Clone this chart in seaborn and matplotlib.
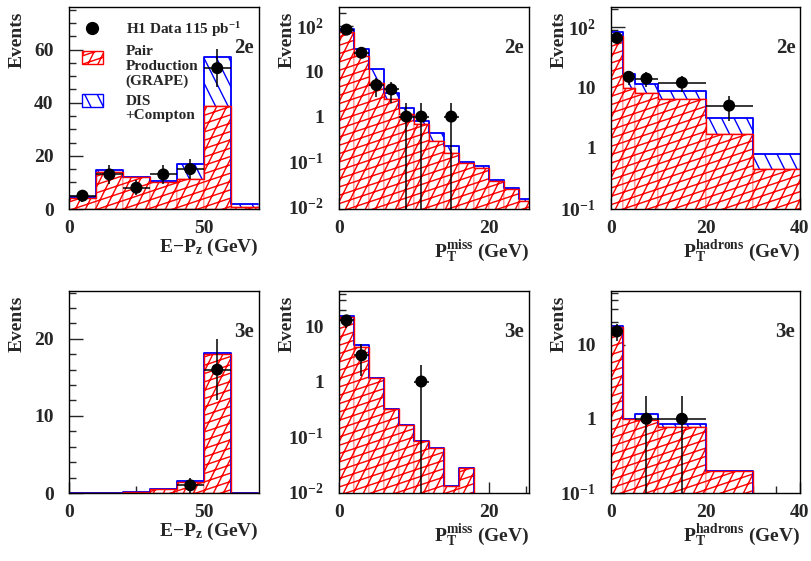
import numpy as np
import pandas as pd
import matplotlib
matplotlib.use("Agg")
import matplotlib.pyplot as plt
import matplotlib.hatch as mhatch
import matplotlib.patches as mpatches
from matplotlib.lines import Line2D
from matplotlib.legend_handler import HandlerPatch
from matplotlib.path import Path
from matplotlib.ticker import MultipleLocator, LogLocator, FuncFormatter, NullFormatter
import seaborn as sns

# ---------------- data ----------------
edges_epz = [0, 10, 20, 30, 40, 50, 60, 70]
edges_ptmiss = [0, 2, 4, 6, 8, 10, 12, 14, 16, 18, 20, 22, 24, 26]
edges_pthad = [0, 2.5, 5, 10, 20, 30, 40]

# 2e, E-Pz
pair_2e_epz = [4.3, 13.8, 12.0, 10.3, 11.3, 38.6, 0.9]
total_2e_epz = [4.5, 14.5, 12.2, 10.5, 16.9, 57.2, 1.8]
data_2e_epz = [5, 13, 8, 13, 15, 53, 0]

# 2e, PT miss
pair_2e_ptmiss = [75, 22, 5.6, 2.4, 1.12, 0.68, 0.29, 0.154, 0.093, 0.071, 0.038, 0.025, 0.0136]
total_2e_ptmiss = [90, 31, 11.2, 3.3, 1.58, 0.8, 0.44, 0.22, 0.097, 0.081, 0.040, 0.026, 0.0148]
data_2e_ptmiss = [85, 26, 5, 4, 1, 1, 0, 1, 0, 0, 0, 0, 0]

# 2e, PT hadrons
pair_2e_pthad = [70, 9.8, 8.1, 6.5, 1.7, 0.45]
total_2e_pthad = [82, 17, 11.4, 8.6, 3.1, 0.8]
data_2e_pthad = [66, 15, 14, 12, 5, 0]

# 3e, E-Pz
pair_3e_epz = [0, 0, 0.1, 0.5, 1.4, 18.0, 0.05]
total_3e_epz = [0, 0, 0.1, 0.5, 1.5, 18.2, 0.05]
data_3e_epz = [0, 0, 0, 0, 1, 16, 0]

# 3e, PT miss
pair_3e_ptmiss = [14.8, 4.2, 1.15, 0.31, 0.163, 0.081, 0.061, 0.0123, 0.026, 0, 0, 0, 0]
total_3e_ptmiss = [15.3, 4.6, 1.15, 0.31, 0.163, 0.081, 0.062, 0.0123, 0.026, 0, 0, 0, 0]
data_3e_ptmiss = [13, 3, 0, 0, 0, 1, 0, 0, 0, 0, 0, 0, 0]

# 3e, PT hadrons
pair_3e_pthad = [17.4, 1.0, 0.95, 0.77, 0.198, 0]
total_3e_pthad = [17.6, 1.0, 1.16, 0.85, 0.198, 0]
data_3e_pthad = [15, 0, 1, 1, 0, 0]

xlabel_epz = "E\u2212P$_{z}$ (GeV)"
xlabel_ptmiss = "P$_{T}^{miss}$ (GeV)"
xlabel_pthad = "P$_{T}^{hadrons}$ (GeV)"
legend_labels = ["H1 Data 115 pb$^{-1}$", "Pair\nProduction\n(GRAPE)", "DIS\n+Compton"]


# ---------------- ROOT-like slanted hatch patterns ----------------
def _clip_to_tile(p0, d, lo=-0.03, hi=1.03):
    t0, t1 = -np.inf, np.inf
    for i in range(2):
        if abs(d[i]) < 1e-12:
            if p0[i] < lo or p0[i] > hi:
                return None
        else:
            ta = (lo - p0[i]) / d[i]
            tb = (hi - p0[i]) / d[i]
            t0 = max(t0, min(ta, tb))
            t1 = min(t1, max(ta, tb))
    if t0 >= t1:
        return None
    return p0 + t0 * d, p0 + t1 * d


def make_line_hatch(char, a, b, m0):
    """Periodic family of lines b*x - a*y = k/m0 in the unit hatch tile."""
    class _LineHatch(mhatch.HatchPatternBase):
        def __init__(self, hatch, density):
            n = hatch.count(char)
            segs = []
            if n:
                m = m0 * n
                vals = [b * x - a * y for x, y in ((0, 0), (1, 0), (0, 1), (1, 1))]
                d = np.array([a, b], float) / np.hypot(a, b)
                for k in range(int(np.floor(min(vals) * m)) - 2,
                               int(np.ceil(max(vals) * m)) + 3):
                    c = k / m
                    p0 = np.array([c / b, 0.0]) if b != 0 else np.array([0.0, -c / a])
                    seg = _clip_to_tile(p0, d)
                    if seg is not None:
                        segs.append(seg)
            self.segs = segs
            self.num_vertices = 2 * len(segs)
            self.filled = False

        def set_vertices_and_codes(self, vertices, codes):
            for i, (p, q) in enumerate(self.segs):
                vertices[2 * i] = p
                vertices[2 * i + 1] = q
                codes[2 * i] = Path.MOVETO
                codes[2 * i + 1] = Path.LINETO
    return _LineHatch


_keep = [t for t in mhatch._hatch_types
         if t not in (mhatch.LargeCircles, mhatch.SmallCircles, mhatch.Stars)]
mhatch._hatch_types = _keep + [make_line_hatch("O", 1, 2, 5),    # red, steep
                               make_line_hatch("*", 3, 1, 4),    # red, shallow
                               make_line_hatch("o", 1, -2, 4)]   # blue
RED_HATCH = "O*"
BLUE_HATCH = "o"

# ---------------- style ----------------
sns.set_style("ticks")
plt.rcParams["font.family"] = ["Liberation Serif", "DejaVu Serif"]
plt.rcParams["font.weight"] = "bold"
plt.rcParams["mathtext.fontset"] = "custom"
plt.rcParams["mathtext.rm"] = "Liberation Serif:bold"
plt.rcParams["mathtext.it"] = "Liberation Serif:bold"
plt.rcParams["mathtext.bf"] = "Liberation Serif:bold"
plt.rcParams["mathtext.default"] = "rm"
plt.rcParams["hatch.linewidth"] = 1.0
plt.rcParams["axes.linewidth"] = 1.0
plt.rcParams["axes.edgecolor"] = "black"

RED = "#ff0000"
BLUE = "#0000ff"
FS = 14

fig = plt.figure(figsize=(8.12, 5.61), dpi=100)
W = 812.0
H = 561.0
col_x = [69, 339, 611]
col_w = [190, 190, 189]
row_top = [7, 291]
row_h = 202


def logfmt(v, pos):
    e = int(round(np.log10(v)))
    if e == 0:
        return "1"
    if e == 1:
        return "10"
    return r"$10^{%d}$" % e


def hatched_hist(ax, df, col, edges, color, hatch):
    n0 = len(ax.patches)
    sns.histplot(data=df, x="x", weights=col, bins=edges, element="bars", fill=True,
                 facecolor="white", edgecolor=color, linewidth=0.3, ax=ax)
    for p in ax.patches[n0:]:
        p.set_hatch(hatch)
        p.set_edgecolor(color)
        p.set_facecolor("white")
        p.set_antialiased(True)


def draw_panel(ax, edges, pair, total, data, xlim, ylim, log, xlabel, tag,
               xmajor, xminor, ymajor=None, yminor=None, xlabelpad=4):
    edges = [float(e) for e in edges]
    e_arr = np.asarray(edges)
    centers = 0.5 * (e_arr[:-1] + e_arr[1:])
    halfw = 0.5 * (e_arr[1:] - e_arr[:-1])
    df = pd.DataFrame({"x": centers, "pair": pair, "total": total})

    # total (DIS + Compton stacked on pair production): blue hatch
    hatched_hist(ax, df, "total", edges, BLUE, BLUE_HATCH)
    sns.histplot(data=df, x="x", weights="total", bins=edges, element="step", fill=False,
                 color=BLUE, linewidth=1.3, ax=ax)
    # pair production: red cross hatch
    hatched_hist(ax, df, "pair", edges, RED, RED_HATCH)
    sns.histplot(data=df, x="x", weights="pair", bins=edges, element="step", fill=False,
                 color=RED, linewidth=1.0, ax=ax)

    data = np.asarray(data, float)
    m = data > 0
    ax.errorbar(centers[m], data[m], yerr=np.sqrt(data[m]), xerr=halfw[m], fmt="none",
                ecolor="black", elinewidth=1.1, capsize=0, zorder=6)
    sns.scatterplot(x=centers[m], y=data[m], color="black", s=75, edgecolor="none",
                    ax=ax, zorder=7, legend=False)

    if log:
        ax.set_yscale("log")
        ax.yaxis.set_major_locator(LogLocator(base=10, numticks=12))
        ax.yaxis.set_minor_locator(LogLocator(base=10, subs=np.arange(2, 10), numticks=12))
        ax.yaxis.set_major_formatter(FuncFormatter(logfmt))
        ax.yaxis.set_minor_formatter(NullFormatter())
    else:
        ax.yaxis.set_major_locator(MultipleLocator(ymajor))
        ax.yaxis.set_minor_locator(MultipleLocator(yminor))
    ax.xaxis.set_major_locator(MultipleLocator(xmajor))
    ax.xaxis.set_minor_locator(MultipleLocator(xminor))
    ax.set_xlim(*xlim)
    ax.set_ylim(*ylim)

    ax.tick_params(which="both", direction="in", top=False, right=False,
                   labelsize=FS, width=1.0)
    ax.tick_params(axis="y", which="major", length=10, pad=11)
    ax.tick_params(axis="y", which="minor", length=5)
    ax.tick_params(axis="x", which="major", length=8, pad=8)
    ax.tick_params(axis="x", which="minor", length=5)
    for s in ax.spines.values():
        s.set_visible(True)
        s.set_linewidth(1.0)
        s.set_color("black")

    ax.set_ylabel("Events", fontsize=FS, fontweight="bold", loc="top")
    ax.yaxis.set_label_coords(-0.23, 0.975)
    ax.set_xlabel(xlabel, fontsize=FS, fontweight="bold", loc="right", labelpad=xlabelpad)
    ax.text(0.975, 0.795, tag, transform=ax.transAxes, ha="right", va="center",
            fontsize=FS + 1, fontweight="bold")


def make_ax(r, c):
    left = col_x[c] / W
    bottom = 1 - (row_top[r] + row_h) / H
    return fig.add_axes([left, bottom, col_w[c] / W, row_h / H])


ax1 = make_ax(0, 0)
draw_panel(ax1, edges_epz, pair_2e_epz, total_2e_epz, data_2e_epz, (0, 70.5), (0, 76),
           False, xlabel_epz, "2e", 50, 25, 20, 5, xlabelpad=0)
ax2 = make_ax(0, 1)
draw_panel(ax2, edges_ptmiss, pair_2e_ptmiss, total_2e_ptmiss, data_2e_ptmiss,
           (0, 25.4), (0.0089, 270), True, xlabel_ptmiss, "2e", 20, 5, xlabelpad=1)
ax3 = make_ax(0, 2)
draw_panel(ax3, edges_pthad, pair_2e_pthad, total_2e_pthad, data_2e_pthad,
           (0, 40), (0.097, 215), True, xlabel_pthad, "2e", 20, 5, xlabelpad=1)
ax4 = make_ax(1, 0)
draw_panel(ax4, edges_epz, pair_3e_epz, total_3e_epz, data_3e_epz, (0, 70.5), (0, 26.2),
           False, xlabel_epz, "3e", 50, 25, 10, 2, xlabelpad=0)
ax5 = make_ax(1, 1)
draw_panel(ax5, edges_ptmiss, pair_3e_ptmiss, total_3e_ptmiss, data_3e_ptmiss,
           (0, 25.4), (0.0093, 44.6), True, xlabel_ptmiss, "3e", 20, 5, xlabelpad=1)
ax6 = make_ax(1, 2)
draw_panel(ax6, edges_pthad, pair_3e_pthad, total_3e_pthad, data_3e_pthad,
           (0, 40), (0.1, 52.6), True, xlabel_pthad, "3e", 20, 5, xlabelpad=1)

# ---------------- legend (first panel) ----------------
LEG_FS = 11
LEG_LS = 1.15


def box_at_first_line(nlines, extra):
    def make(legend, orig_handle, xdescent, ydescent, width, height, fontsize):
        shift = (nlines - 1) * 0.5 * LEG_LS * 0.915 * fontsize + extra
        return mpatches.Rectangle((-xdescent, -ydescent + shift), width, height)
    return make


h_data = Line2D([], [], marker="o", linestyle="none", color="black", markersize=8.5)
h_pair = mpatches.Patch(facecolor="white", edgecolor=RED, hatch=RED_HATCH, linewidth=1.0)
h_dis = mpatches.Patch(facecolor="white", edgecolor=BLUE, hatch=BLUE_HATCH, linewidth=1.0)
leg = ax1.legend([h_data, h_pair, h_dis], legend_labels,
                 loc="upper left", bbox_to_anchor=(0.012, 0.99), frameon=False,
                 prop={"family": "Liberation Serif", "weight": "bold", "size": LEG_FS},
                 handlelength=1.35, handleheight=0.9, handletextpad=1.5,
                 labelspacing=0.45, borderpad=0.2,
                 handler_map={h_pair: HandlerPatch(patch_func=box_at_first_line(3, -5.0)),
                              h_dis: HandlerPatch(patch_func=box_at_first_line(2, 0.0))})
for t in leg.get_texts():
    t.set_linespacing(LEG_LS)

fig.savefig("out.png", dpi=100)
